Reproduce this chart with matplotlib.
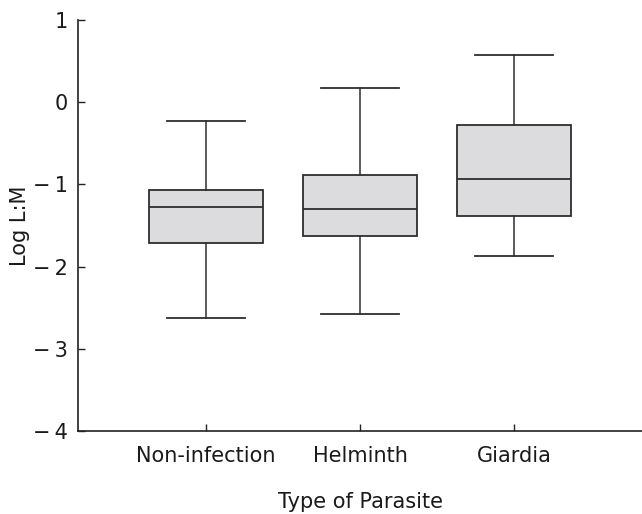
import matplotlib.pyplot as plt

plt.rcParams['font.family'] = ['DejaVu Sans']

groups = ['Non-infection', 'Helminth', 'Giardia']
whisker_low = [-2.63, -2.58, -1.87]
q1 = [-1.71, -1.63, -1.39]
median = [-1.28, -1.30, -0.93]
q3 = [-1.07, -0.89, -0.28]
whisker_high = [-0.23, 0.17, 0.57]
ytick_vals = [1, 0, -1, -2, -3, -4]

stats = []
for i, name in enumerate(groups):
    stats.append({
        'label': name,
        'whislo': whisker_low[i],
        'q1': q1[i],
        'med': median[i],
        'q3': q3[i],
        'whishi': whisker_high[i],
        'fliers': [],
    })

fig = plt.figure(figsize=(6.42, 5.14), dpi=100)
ax = fig.add_axes([0.1215, 0.1615, 0.8785, 0.7995])

edge = '#2e2e2e'
ax.bxp(stats, positions=[1, 2, 3], widths=0.74, capwidths=0.51,
       showfliers=False, patch_artist=True,
       boxprops=dict(facecolor='#dcdcde', edgecolor=edge, linewidth=1.3),
       medianprops=dict(color=edge, linewidth=1.3),
       whiskerprops=dict(color=edge, linewidth=1.1),
       capprops=dict(color=edge, linewidth=1.3))

ax.set_xlim(0.17, 3.83)
ax.set_ylim(-4, 1)
ax.set_yticks(ytick_vals)
ax.set_yticklabels([str(v) if v >= 0 else '\u2212\u2009' + str(-v) for v in ytick_vals])
ax.set_xticks([1, 2, 3])
ax.set_xticklabels(groups)

for side in ['top', 'right']:
    ax.spines[side].set_visible(False)
for side in ['left', 'bottom']:
    ax.spines[side].set_color('#222222')
    ax.spines[side].set_linewidth(1.2)

ax.tick_params(axis='both', direction='in', length=5, width=1, colors='#222222',
               labelsize=15, labelcolor='#1a1a1a')
ax.tick_params(axis='x', pad=10.5)
ax.tick_params(axis='y', pad=7)

ax.set_ylabel('Log L:M', fontsize=15, color='#1a1a1a')
ax.set_xlabel('Type of Parasite', fontsize=15, color='#1a1a1a')
ax.yaxis.label.set_va('center')
ax.yaxis.set_label_coords(-0.103, 0.5)
ax.xaxis.label.set_va('center')
ax.xaxis.set_label_coords(0.5, -0.173)

fig.savefig('out.png', dpi=100)
